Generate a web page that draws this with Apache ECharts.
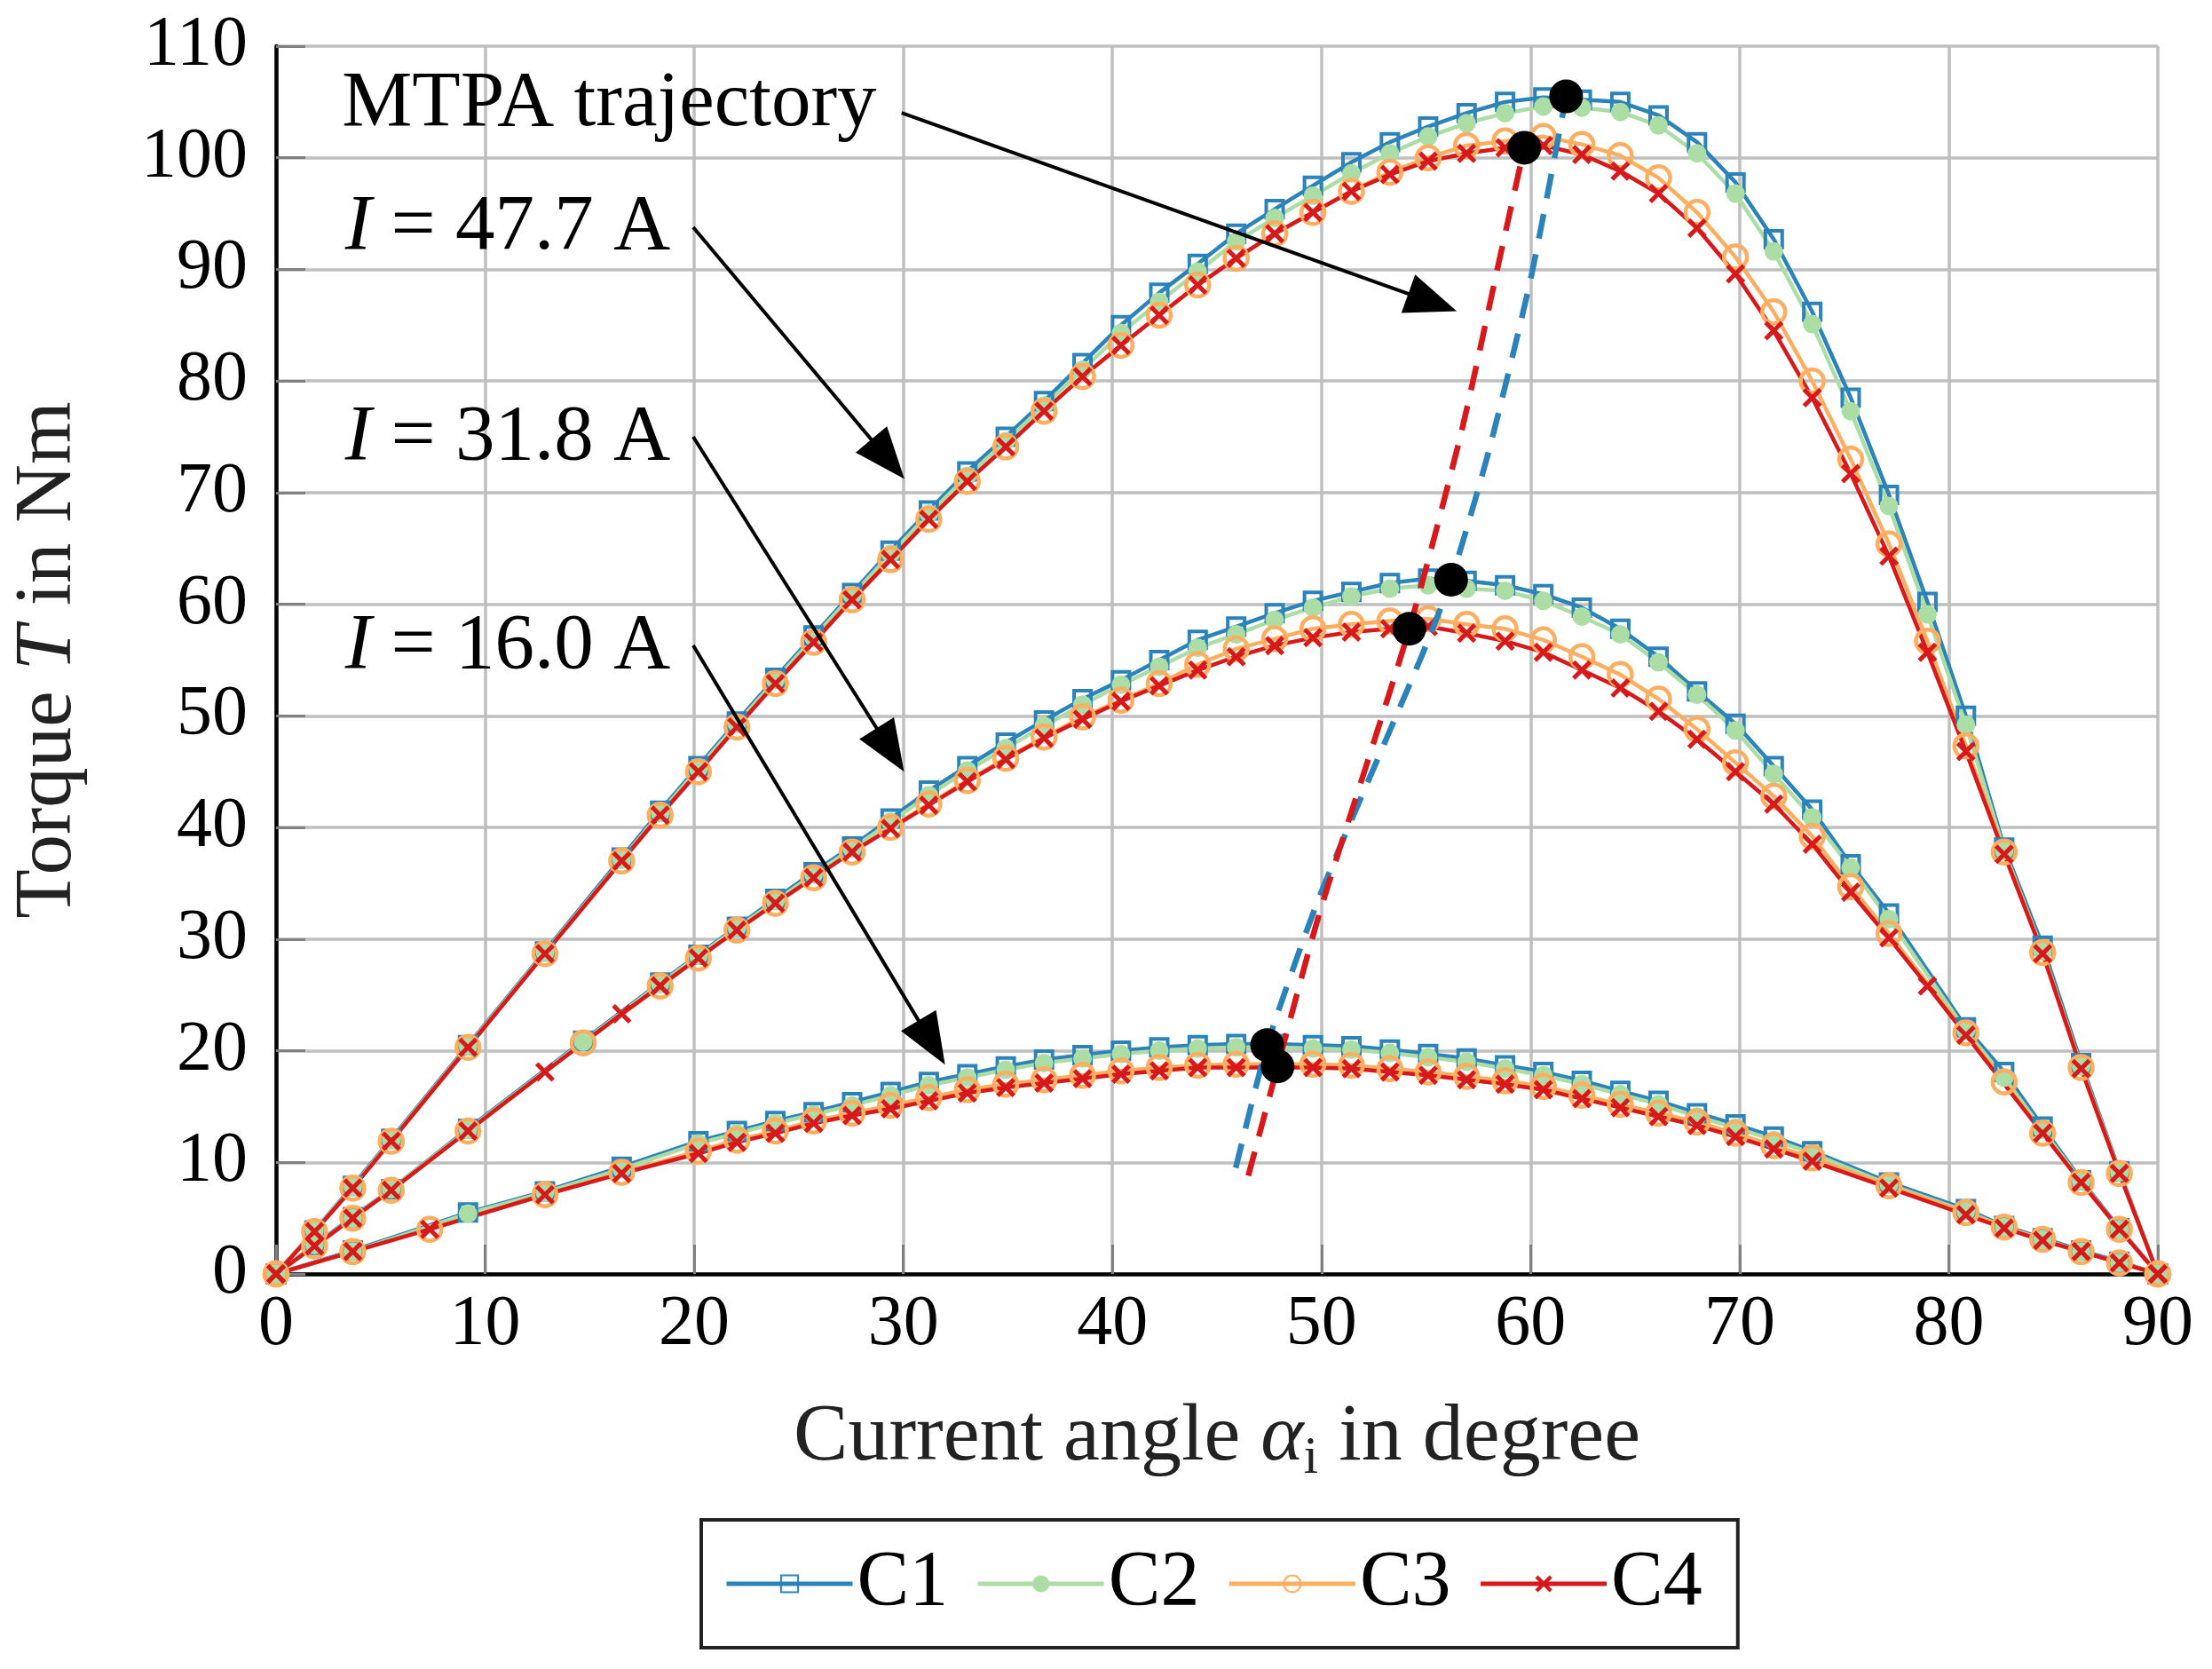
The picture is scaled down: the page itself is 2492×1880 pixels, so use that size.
<!DOCTYPE html>
<html>
<head>
<meta charset="utf-8">
<title>Torque vs current angle</title>
<script src="https://cdn.jsdelivr.net/npm/echarts@6/dist/echarts.min.js"></script>
<style>
html, body { margin: 0; padding: 0; background: #fff; }
#chart { width: 2492px; height: 1880px; }
</style>
</head>
<body>
<div id="chart"></div>
<script>
// current angle grid (degree), 50 points from 0 to 90
var angles = [0, 1.84, 3.67, 5.51, 7.35, 9.18, 11.02, 12.86, 14.69, 16.53,
	18.37, 20.20, 22.04, 23.88, 25.71, 27.55, 29.39, 31.22, 33.06, 34.90,
	36.73, 38.57, 40.41, 42.24, 44.08, 45.92, 47.76, 49.59, 51.43, 53.27,
	55.10, 56.94, 58.78, 60.61, 62.45, 64.29, 66.12, 67.96, 69.80, 71.63,
	73.47, 75.31, 77.14, 78.98, 80.82, 82.65, 84.49, 86.33, 88.16, 90];

// I = 47.7 A
var t477C1 = [0, 3.9, 7.9, 12.1, null, 20.5, null, 28.9, null, 37.3,
	41.5, 45.5, 49.5, 53.4, 57.2, 61.0, 64.8, 68.4, 71.9, 75.0,
	78.2, 81.6, 85.0, 87.9, 90.5, 93.2, 95.4, 97.5, 99.6, 101.4,
	102.8, 104.0, 105.0, 105.4, 105.2, 105.0, 103.8, 101.4, 97.8, 92.7,
	86.2, 78.5, 69.8, 60.2, 50.0, 38.2, 29.4, 18.9, 9.2, 0];
var t477C2 = [0, 3.9, 7.8, 12.0, null, 20.4, null, 28.8, null, 37.1,
	41.3, 45.3, 49.3, 53.2, 57.0, 60.8, 64.5, 68.1, 71.5, 74.6,
	77.8, 81.0, 84.3, 87.1, 89.8, 92.5, 94.6, 96.6, 98.6, 100.4,
	101.9, 103.1, 104.0, 104.6, 104.5, 104.1, 102.9, 100.4, 96.8, 91.6,
	85.1, 77.3, 68.8, 59.1, 49.2, 37.9, 28.9, 18.6, 9.1, 0];
var t477C3 = [0, 3.8, 7.7, 11.9, null, 20.3, null, 28.7, null, 37.0,
	41.1, 45.0, 49.0, 52.9, 56.6, 60.4, 64.0, 67.6, 71.0, 74.1,
	77.3, 80.4, 83.2, 85.9, 88.6, 91.0, 93.2, 95.1, 97.0, 98.7,
	100.0, 101.1, 101.5, 101.9, 101.2, 100.2, 98.2, 95.1, 91.1, 86.2,
	80.0, 73.0, 65.4, 56.7, 47.3, 37.8, 28.8, 18.5, 9.0, 0];
var t477C4 = [0, 3.8, 7.7, 11.9, null, 20.3, null, 28.7, null, 37.0,
	41.1, 45.0, 49.0, 52.9, 56.6, 60.4, 64.0, 67.6, 71.0, 74.1,
	77.3, 80.4, 83.2, 85.9, 88.6, 91.0, 93.2, 95.1, 97.0, 98.5,
	99.7, 100.4, 100.9, 101.1, 100.3, 98.8, 96.8, 93.7, 89.6, 84.5,
	78.5, 71.7, 64.3, 55.7, 46.8, 37.6, 28.7, 18.4, 9.0, 0];

// I = 31.8 A
var t318C1 = [0, 2.6, 5.1, 7.6, null, 13.0, null, null, 20.9, null,
	26.1, 28.6, 31.1, 33.6, 36.0, 38.3, 40.8, 43.3, 45.5, 47.6,
	49.6, 51.5, 53.2, 55.0, 56.8, 58.0, 59.2, 60.3, 61.1, 61.9,
	62.3, 62.1, 61.7, 60.9, 59.7, 57.8, 55.3, 52.2, 49.3, 45.5,
	41.6, 36.7, 32.3, null, 22.1, 18.1, 13.2, 8.4, 4.1, 0];
var t318C2 = [0, 2.6, 5.0, 7.6, null, 12.9, null, null, 20.8, null,
	26.0, 28.5, 31.0, 33.4, 35.8, 38.1, 40.5, 42.9, 45.1, 47.1,
	49.1, 51.0, 52.8, 54.4, 56.1, 57.3, 58.6, 59.7, 60.7, 61.4,
	61.7, 61.4, 61.2, 60.3, 58.9, 57.3, 54.8, 51.9, 48.7, 44.8,
	40.9, 36.4, 31.8, null, 21.8, 17.6, 12.9, 8.3, 4.0, 0];
var t318C3 = [0, 2.5, 5.0, 7.5, null, 12.8, null, null, 20.7, null,
	25.8, 28.3, 30.8, 33.2, 35.5, 37.8, 40.0, 42.1, 44.2, 46.2,
	48.1, 49.9, 51.4, 52.9, 54.6, 56.0, 56.9, 57.8, 58.2, 58.5,
	58.7, 58.2, 57.8, 56.8, 55.3, 53.7, 51.5, 48.8, 45.8, 42.8,
	39.2, 34.7, 30.5, null, 21.6, 17.2, 12.6, 8.2, 4.0, 0];
var t318C4 = [0, 2.5, 5.0, 7.5, null, 12.8, null, 18.1, null, 23.3,
	25.8, 28.3, 30.8, 33.2, 35.5, 37.8, 39.9, 42.0, 44.1, 46.1,
	48.0, 49.7, 51.3, 52.7, 54.1, 55.3, 56.3, 57.0, 57.5, 57.8,
	58.0, 57.4, 56.7, 55.7, 54.1, 52.5, 50.4, 47.9, 45.0, 42.1,
	38.5, 34.2, 30.1, 25.8, 21.4, null, 12.6, 8.2, 4.0, 0];

// I = 16.0 A
var t160C1 = [0, null, 2.1, null, null, 5.5, null, 7.4, null, 9.6,
	null, 11.9, 12.8, 13.7, 14.5, 15.4, 16.3, 17.2, 17.9, 18.6,
	19.2, 19.6, 20.0, 20.3, 20.5, 20.6, 20.6, 20.5, 20.4, 20.1,
	19.7, 19.3, 18.7, 18.1, 17.3, 16.4, 15.5, 14.4, 13.4, 12.3,
	11.0, null, 8.2, null, 5.8, 4.3, 3.2, 2.1, 1.1, 0];
var t160C2 = [0, null, 2.0, null, null, 5.4, null, 7.3, null, 9.4,
	null, 11.7, 12.6, 13.5, 14.3, 15.1, 16.0, 16.9, 17.6, 18.3,
	18.9, 19.3, 19.7, 20.0, 20.2, 20.3, 20.3, 20.2, 20.1, 19.8,
	19.4, 19.0, 18.4, 17.8, 17.0, 16.1, 15.2, 14.1, 13.1, 12.0,
	10.8, null, 8.0, null, 5.6, 4.2, 3.1, 2.0, 1.0, 0];
var t160C3 = [0, null, 2.0, null, 4.0, null, null, 7.1, null, 9.1,
	null, 11.0, 12.0, 12.8, 13.7, 14.4, 15.1, 15.8, 16.5, 17.0,
	17.4, 17.8, 18.2, 18.5, 18.7, 18.8, 18.8, 18.8, 18.7, 18.4,
	18.1, 17.7, 17.3, 16.8, 16.0, 15.2, 14.4, 13.6, 12.6, 11.5,
	10.4, null, 7.9, null, 5.5, 4.2, 3.1, 2.0, 1.0, 0];
var t160C4 = [0, null, 2.0, null, 4.0, null, null, 7.1, null, 9.0,
	null, 10.8, 11.8, 12.6, 13.5, 14.2, 14.8, 15.5, 16.2, 16.7,
	17.1, 17.5, 17.9, 18.2, 18.5, 18.5, 18.5, 18.5, 18.4, 18.1,
	17.8, 17.4, 17.0, 16.5, 15.7, 14.9, 14.1, 13.3, 12.3, 11.2,
	10.1, null, 7.7, null, 5.3, 4.1, 3.0, 2.0, 1.0, 0];

// MTPA trajectories (C1 and C4) and the maximum torque points
var mtpaC1Angle = [45.9, 47.4, 49.9, 54.8, 56.2, 58.0, 60.0, 61.7];
var mtpaC1Torque = [9.5, 20.5, 33.8, 55.4, 62.2, 73.7, 89.1, 105.5];
var mtpaC4Angle = [46.5, 47.9, 49.9, 54.2, 56.7, 58.7, 59.7];
var mtpaC4Torque = [8.8, 18.6, 32.3, 57.8, 75.5, 92.5, 100.9];
var peakAngle = [61.7, 56.2, 47.4, 59.7, 54.2, 47.9];
var peakTorque = [105.5, 62.2, 20.5, 100.9, 57.8, 18.6];

var configs = ['C1', 'C2', 'C3', 'C4'];

var FONT = 'Liberation Serif';
var colors = { C1: '#2b83ba', C2: '#abdda4', C3: '#fdae61', C4: '#d7191c' };
var crossPath = 'path://M0,1.6L1.6,0L5,3.4L8.4,0L10,1.6L6.6,5L10,8.4L8.4,10L5,6.6L1.6,10L0,8.4L3.4,5Z';

var curves = {
	C1: [t477C1, t318C1, t160C1],
	C2: [t477C2, t318C2, t160C2],
	C3: [t477C3, t318C3, t160C3],
	C4: [t477C4, t318C4, t160C4]
};

function pairs(xs, ys) {
	var out = [];
	for (var i = 0; i < xs.length; i++) {
		if (ys[i] !== null) out.push([xs[i], ys[i]]);
	}
	return out;
}

function markerStyle(name) {
	if (name == 'C1') {
		return { symbol: 'rect', symbolSize: 19,
			itemStyle: { color: 'rgba(255,255,255,0)', borderColor: colors.C1, borderWidth: 4 } };
	}
	if (name == 'C2') {
		return { symbol: 'circle', symbolSize: 21, itemStyle: { color: colors.C2 } };
	}
	if (name == 'C3') {
		return { symbol: 'circle', symbolSize: 26,
			itemStyle: { color: 'rgba(255,255,255,0)', borderColor: colors.C3, borderWidth: 4.5 } };
	}
	return { symbol: crossPath, symbolSize: 22, itemStyle: { color: colors.C4 } };
}

var series = [];
configs.forEach(function(name) {
	var m = markerStyle(name);
	curves[name].forEach(function(values) {
		series.push({
			name: name,
			type: 'line',
			data: pairs(angles, values),
			symbol: m.symbol,
			symbolSize: m.symbolSize,
			showAllSymbol: true,
			itemStyle: m.itemStyle,
			lineStyle: { color: colors[name], width: 4.5 },
			z: 3
		});
	});
});

// dashed MTPA lines
series.push({
	type: 'line',
	data: pairs(mtpaC1Angle, mtpaC1Torque),
	smooth: 0.2,
	symbol: 'none',
	lineStyle: { color: colors.C1, width: 6.5, type: [28, 18] },
	z: 4
});
series.push({
	type: 'line',
	data: pairs(mtpaC4Angle, mtpaC4Torque),
	smooth: 0.2,
	symbol: 'none',
	lineStyle: { color: colors.C4, width: 6.5, type: [28, 18] },
	z: 4
});
series.push({
	type: 'scatter',
	data: pairs(peakAngle, peakTorque),
	symbol: 'circle',
	symbolSize: 38,
	itemStyle: { color: '#000', opacity: 1 },
	z: 6
});

// annotation arrows
series.push({
	type: 'line',
	data: [],
	z: 7,
	markLine: {
		silent: true,
		symbol: ['none', 'triangle'],
		symbolSize: [46, 58],
		label: { show: false },
		lineStyle: { color: '#000', width: 4, type: 'solid', opacity: 1 },
		itemStyle: { color: '#000' },
		data: [
			[{ coord: [29.92, 104.03] }, { coord: [55.31, 87.04] }],
			[{ coord: [19.95, 93.77] }, { coord: [29.26, 73.0] }],
			[{ coord: [19.95, 75.0] }, { coord: [29.38, 46.95] }],
			[{ coord: [19.95, 56.31] }, { coord: [31.36, 20.73] }]
		]
	}
});

var option = {
	animation: false,
	backgroundColor: '#fff',
	grid: { left: 311, right: 61, top: 52, bottom: 445 },
	legend: {
		data: configs,
		left: 790,
		top: 1712,
		itemWidth: 142,
		itemHeight: 24,
		itemGap: 31,
		padding: [28, 40, 28, 26],
		borderColor: '#222',
		borderWidth: 4,
		lineStyle: { width: 5 },
		textStyle: { fontFamily: FONT, fontSize: 88, color: '#000' }
	},
	xAxis: {
		type: 'value',
		min: 0,
		max: 90,
		interval: 10,
		name: 'Current angle {a|α}{s|i} in degree',
		nameLocation: 'middle',
		nameGap: 132,
		nameTextStyle: {
			fontFamily: FONT, fontSize: 92, color: '#222', lineHeight: 106,
			rich: {
				a: { fontFamily: FONT, fontSize: 92, fontStyle: 'italic', color: '#222', lineHeight: 106 },
				s: { fontFamily: FONT, fontSize: 60, color: '#222', lineHeight: 60, verticalAlign: 'bottom' }
			}
		},
		axisLine: { lineStyle: { color: '#000', width: 4.5 } },
		axisTick: { inside: true, length: 33, lineStyle: { color: '#808080', width: 3 } },
		axisLabel: { fontFamily: FONT, fontSize: 80, color: '#000', margin: 18 },
		splitLine: { lineStyle: { color: '#bfbfbf', width: 3.5 } }
	},
	yAxis: {
		type: 'value',
		min: 0,
		max: 110,
		interval: 10,
		name: 'Torque {i|T} in Nm',
		nameLocation: 'middle',
		nameGap: 210,
		nameTextStyle: {
			fontFamily: FONT, fontSize: 91, color: '#222',
			rich: {
				i: { fontFamily: FONT, fontSize: 91, fontStyle: 'italic', color: '#222' }
			}
		},
		axisLine: { show: true, lineStyle: { color: '#000', width: 4.5 } },
		axisTick: { show: true, inside: true, length: 33, lineStyle: { color: '#808080', width: 3 } },
		axisLabel: { fontFamily: FONT, fontSize: 80, color: '#000', margin: 32 },
		splitLine: { lineStyle: { color: '#bfbfbf', width: 3.5 } }
	},
	series: series
};

var dom = document.getElementById('chart');
var myChart = echarts.init(dom);
myChart.setOption(option, true);

// text labels placed in data coordinates
var notes = [
	{ text: 'MTPA trajectory', at: [3.15, 104.8] },
	{ text: '{i|I} = 47.7 A', at: [3.3, 93.7] },
	{ text: '{i|I} = 31.8 A', at: [3.3, 74.9] },
	{ text: '{i|I} = 16.0 A', at: [3.3, 56.2] }
];
var graphics = notes.map(function(n) {
	var p = myChart.convertToPixel({ gridIndex: 0 }, n.at);
	return {
		type: 'text',
		x: p[0],
		y: p[1],
		z: 10,
		style: {
			text: n.text,
			fontFamily: FONT,
			fontSize: 89,
			fill: '#000',
			align: 'left',
			verticalAlign: 'middle',
			rich: {
				i: { fontFamily: FONT, fontSize: 89, fontStyle: 'italic', fill: '#000' }
			}
		}
	};
});
myChart.setOption({ graphic: graphics });
</script>
</body>
</html>
